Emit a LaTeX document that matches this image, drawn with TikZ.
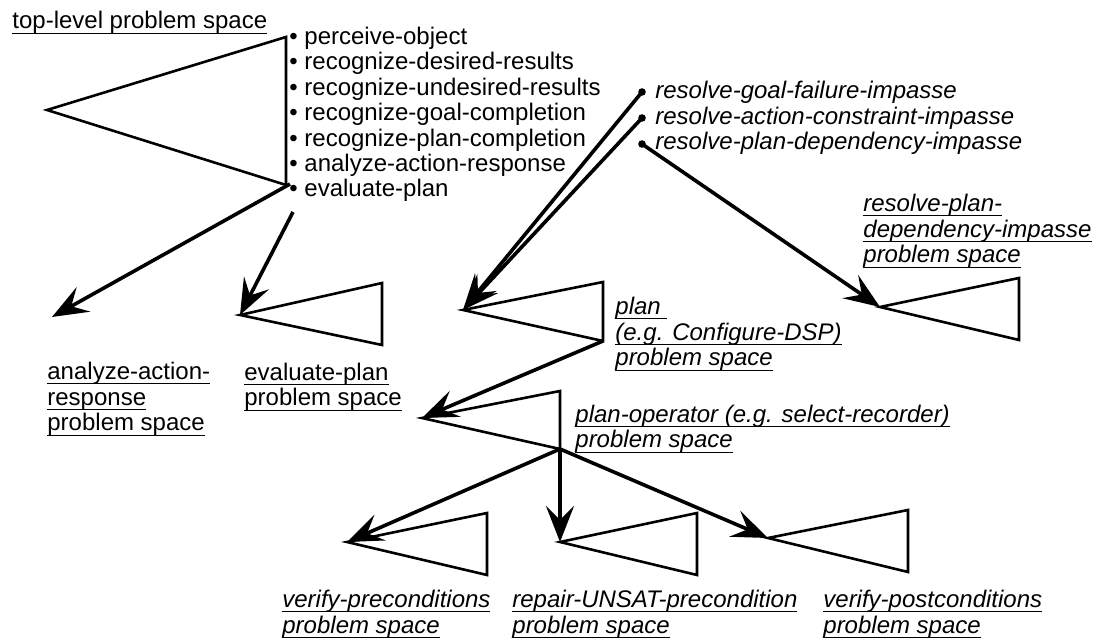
\documentclass[tikz,border=0pt]{standalone}
\usepackage{fontspec}
\setmainfont{Liberation Sans}
\usetikzlibrary{arrows.meta}

\newcommand{\psul}[1]{\underline{\raisebox{0pt}[\height][0.6pt]{#1}}}

\tikzset{
  tri/.style={line width=1.3pt, line join=miter},
  link/.style={line width=1.8pt, -{Stealth[length=18pt,width=14pt,inset=7pt]}},
  lbl/.style={align=left, inner sep=0pt, anchor=base west, font=\fontsize{12}{12.8}\selectfont},
  ilbl/.style={lbl, font=\fontsize{12}{12.8}\selectfont\itshape},
}

\begin{document}
\begin{tikzpicture}[x=0.5pt,y=-0.5pt]
\useasboundingbox (0,0) rectangle (1097,640);

% top-level problem space (labels sit on their last baseline)
\coordinate (topapex) at (47,110);
\coordinate (topcorner) at (290,184);
\coordinate (evalstart) at (293,212);
\draw[tri] (topapex) -- (286,37) -- (286,185) -- cycle;
\node[lbl] (toplbl) at (12,29) {\psul{top-level problem space}};
\node[lbl, font=\fontsize{12}{12.7}\selectfont] (ops) at (289,197)
  {\textbullet\ perceive-object\\ \textbullet\ recognize-desired-results\\
   \textbullet\ recognize-undesired-results\\ \textbullet\ recognize-goal-completion\\
   \textbullet\ recognize-plan-completion\\ \textbullet\ analyze-action-response\\
   \textbullet\ evaluate-plan};

% spaces below the top level
\coordinate (anlapex) at (52,317);
\coordinate (evalapex) at (240,315);
\draw[tri] (evalapex) -- (382,283) -- (382,345) -- cycle;
\draw[link] (topcorner) -- (anlapex);
\draw[link] (evalstart) -- (evalapex);
\node[lbl] (anllbl) at (47,431) {\psul{analyze-action-}\\\psul{response}\\\psul{problem space}};
\node[lbl] (evallbl) at (244,406) {\psul{evaluate-plan}\\\psul{problem space}};

% impasses
\coordinate (imp1) at (642,92);
\coordinate (imp2) at (642,118);
\coordinate (imp3) at (642,144);
\fill (imp1) circle (3.8) (imp2) circle (3.8) (imp3) circle (3.8);
\node[ilbl] (imps) at (655,150)
  {resolve-goal-failure-impasse\\resolve-action-constraint-impasse\\resolve-plan-dependency-impasse};

% plan
\coordinate (planapex) at (463,310);
\coordinate (plancorner) at (603,341);
\draw[tri] (planapex) -- (603,282) -- (plancorner) -- cycle;
\draw[link] (imp1) -- (planapex);
\draw[link] (imp2) -- (planapex);
\node[ilbl] (planlbl) at (615,366) {\psul{plan\ }\\\psul{(e.g. Configure-DSP)}\\\psul{problem space}};

% resolve-plan-dependency-impasse
\coordinate (depapex) at (880,307);
\draw[tri] (depapex) -- (1019,278) -- (1019,340) -- cycle;
\draw[link] (imp3) -- (depapex);
\node[ilbl] (deplbl) at (863,263) {\psul{resolve-plan-}\\\psul{dependency-impasse}\\\psul{problem space}};

% plan-operator
\coordinate (opapex) at (422,418);
\coordinate (opcorner) at (560,449);
\draw[tri] (opapex) -- (560,391) -- (opcorner) -- cycle;
\draw[link] (plancorner) -- (opapex);
\node[ilbl] (oplbl) at (575,448) {\psul{plan-operator (e.g. select-recorder)}\\\psul{problem space}};

% bottom row
\coordinate (preapex) at (347,542);
\coordinate (repapex) at (560,542);
\coordinate (postapex) at (768,538);
\draw[tri] (preapex) -- (487,513) -- (487,575) -- cycle;
\draw[tri] (repapex) -- (697,513) -- (697,575) -- cycle;
\draw[tri] (postapex) -- (908,510) -- (908,572) -- cycle;
\draw[link] (opcorner) -- (preapex);
\draw[link] (opcorner) -- (repapex);
\draw[link] (opcorner) -- (postapex);
\node[ilbl] (prelbl) at (282,633) {\psul{verify-preconditions}\\\psul{problem space}};
\node[ilbl] (replbl) at (512,633) {\psul{repair-UNSAT-precondition}\\\psul{problem space}};
\node[ilbl] (postlbl) at (823,633) {\psul{verify-postconditions}\\\psul{problem space}};
\end{tikzpicture}
\end{document}
